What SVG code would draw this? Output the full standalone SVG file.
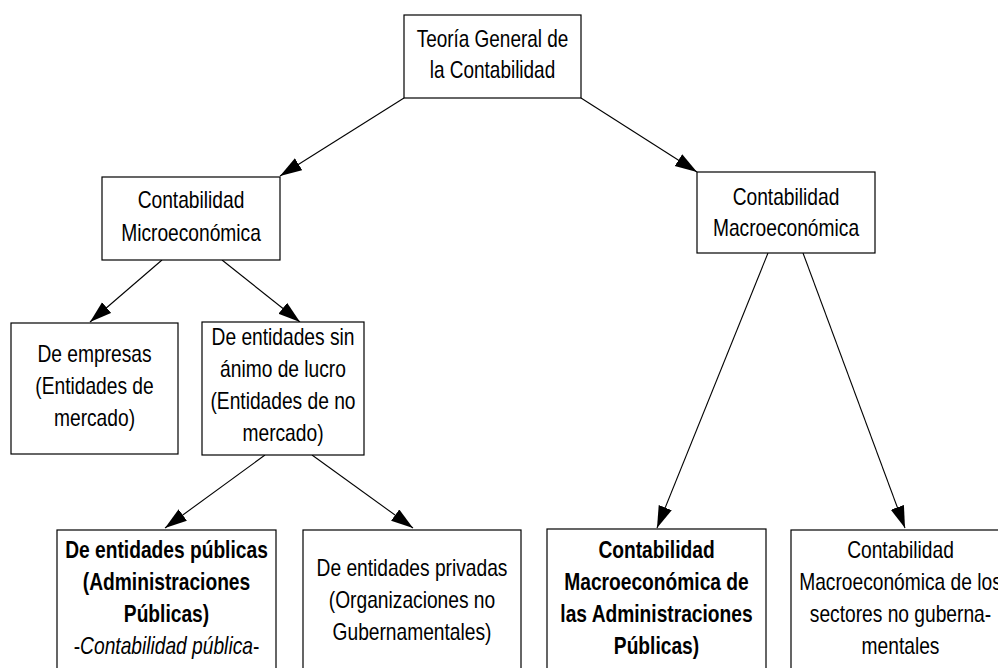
<svg xmlns="http://www.w3.org/2000/svg" width="998" height="668" viewBox="0 0 998 668">
<style>
.box{fill:#fff;stroke:#000;stroke-width:1.2}
text{font-family:"Liberation Sans",Arial,sans-serif;font-size:24px;fill:#000;text-anchor:middle}
.b{font-weight:bold}
.i{font-style:italic}
.c line{stroke:#000;stroke-width:1.1;marker-end:url(#ah)}
</style>
<defs>
<marker id="ah" markerUnits="userSpaceOnUse" markerWidth="24" markerHeight="16" refX="22" refY="7" orient="auto">
<path d="M0,0 L22,7 L0,14 Z" fill="#000"/>
</marker>
</defs>
<rect width="998" height="668" fill="#fff"/>
<g class="c" id="connectors">
<line x1="404" y1="98" x2="280" y2="176"/>
<line x1="581" y1="98" x2="697" y2="172"/>
<line x1="162" y1="260" x2="90" y2="322"/>
<line x1="222" y1="260" x2="300" y2="322"/>
<line x1="265" y1="455" x2="165" y2="528"/>
<line x1="312" y1="455" x2="413" y2="528"/>
<line x1="768" y1="253" x2="657" y2="528"/>
<line x1="803" y1="253" x2="905" y2="528"/>
</g>
<g id="teoria">
<rect class="box" x="404" y="15" width="177" height="83"/>
<g transform="translate(492.5 0) scale(0.79 1)">
<text x="0" y="47">Teoría General de</text>
<text x="0" y="78">la Contabilidad</text>
</g>
</g>
<g id="micro">
<rect class="box" x="102" y="177" width="178" height="83"/>
<g transform="translate(191 0) scale(0.8 1)">
<text x="0" y="208">Contabilidad</text>
<text x="0" y="241">Microeconómica</text>
</g>
</g>
<g id="macro">
<rect class="box" x="697" y="172" width="178" height="81"/>
<g transform="translate(786 0) scale(0.8 1)">
<text x="0" y="205">Contabilidad</text>
<text x="0" y="236">Macroeconómica</text>
</g>
</g>
<g id="empresas">
<rect class="box" x="11" y="323" width="167" height="131"/>
<g transform="translate(94.5 0) scale(0.8 1)">
<text x="0" y="362">De empresas</text>
<text x="0" y="394">(Entidades de</text>
<text x="0" y="426">mercado)</text>
</g>
</g>
<g id="sinlucro">
<rect class="box" x="202" y="322" width="162" height="133"/>
<g transform="translate(283 0) scale(0.8 1)">
<text x="0" y="345">De entidades sin</text>
<text x="0" y="377">ánimo de lucro</text>
<text x="0" y="409">(Entidades de no</text>
<text x="0" y="441">mercado)</text>
</g>
</g>
<g id="publicas">
<rect class="box" x="57" y="530" width="219" height="150"/>
<g transform="translate(166.5 0) scale(0.8 1)">
<text class="b" x="0" y="558">De entidades públicas</text>
<text class="b" x="0" y="590">(Administraciones</text>
<text class="b" x="0" y="622">Públicas)</text>
<text x="0" y="654">-<tspan class="i">Contabilidad pública</tspan>-</text>
</g>
</g>
<g id="privadas">
<rect class="box" x="303" y="530" width="218" height="150"/>
<g transform="translate(412 0) scale(0.8 1)">
<text x="0" y="576">De entidades privadas</text>
<text x="0" y="608">(Organizaciones no</text>
<text x="0" y="640">Gubernamentales)</text>
</g>
</g>
<g id="macroap">
<rect class="box" x="547" y="529" width="219" height="150"/>
<g transform="translate(656.5 0) scale(0.8 1)">
<text class="b" x="0" y="558">Contabilidad</text>
<text class="b" x="0" y="590">Macroeconómica de</text>
<text class="b" x="0" y="622">las Administraciones</text>
<text class="b" x="0" y="654">Públicas)</text>
</g>
</g>
<g id="sectores">
<rect class="box" x="791" y="530" width="219" height="150"/>
<g transform="translate(900.5 0) scale(0.8 1)">
<text x="0" y="558">Contabilidad</text>
<text x="0" y="590">Macroeconómica de los</text>
<text x="0" y="622">sectores no guberna-</text>
<text x="0" y="654">mentales</text>
</g>
</g>
</svg>
